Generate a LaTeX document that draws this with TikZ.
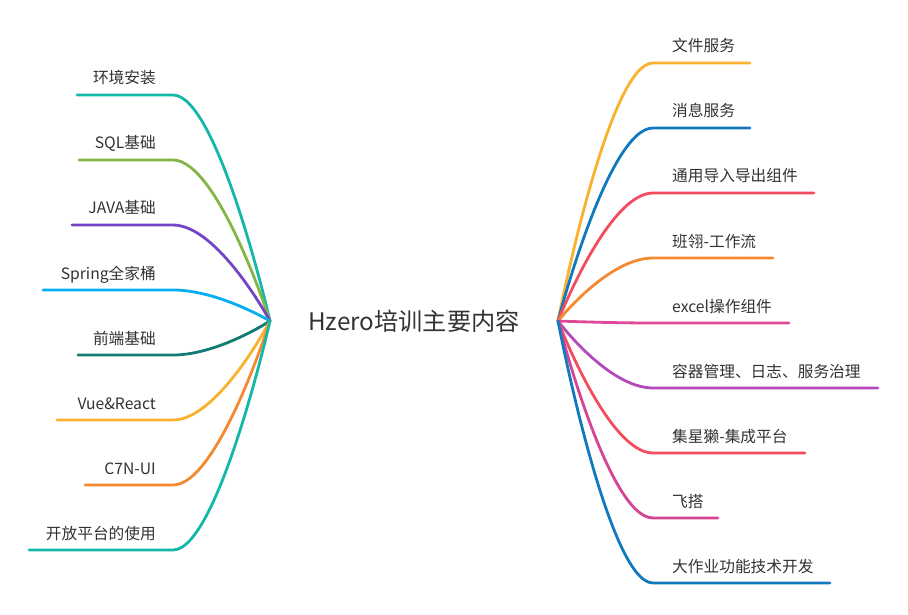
\documentclass[tikz,border=0pt]{standalone}
\usepackage{fontspec}
\setmainfont{Noto Sans CJK SC}
\usepackage{xcolor}
\usepackage{tikz}
\usetikzlibrary{positioning}

\definecolor{txt}{HTML}{333333}
\definecolor{cTeal}{HTML}{14B8A8}
\definecolor{cGreen}{HTML}{84B547}
\definecolor{cPurple}{HTML}{7446C7}
\definecolor{cSky}{HTML}{05AEEF}
\definecolor{cDeep}{HTML}{0F7B73}
\definecolor{cAmber}{HTML}{FAB12E}
\definecolor{cOrange}{HTML}{F5892F}
\definecolor{cBlue}{HTML}{1279BF}
\definecolor{cRed}{HTML}{F24C5E}
\definecolor{cPink}{HTML}{E0489A}
\definecolor{cMagenta}{HTML}{B349BB}
\definecolor{cRose}{HTML}{D64496}

\begin{document}
\begin{tikzpicture}[
  x=1pt,y=-1pt,
  topic/.style={font=\fontsize{24.2}{28}\selectfont,text=txt,inner sep=0pt},
  leaf/.style={font=\fontsize{15.7}{18}\selectfont,text=txt,inner sep=0pt},
  branch/.style={line width=2.8pt,line cap=round}]

\useasboundingbox[fill=white] (0,0) rectangle (908,615);

% ---- centre -----------------------------------------------------------
\node[topic,anchor=base] (root) at (414,330) {Hzero培训主要内容};
\coordinate (lhub) at (270,321);
\coordinate (rhub) at (558,321);

% ---- left branches ----------------------------------------------------
\coordinate (l1a) at (77,95);  \coordinate (l1b) at (173,95);
\coordinate (l2a) at (79,160); \coordinate (l2b) at (173,160);
\coordinate (l3a) at (72,225); \coordinate (l3b) at (173,225);
\coordinate (l4a) at (43,290); \coordinate (l4b) at (173,290);
\coordinate (l5a) at (78,355); \coordinate (l5b) at (173,355);
\coordinate (l6a) at (57,420); \coordinate (l6b) at (173,420);
\coordinate (l7a) at (85,485); \coordinate (l7b) at (173,485);
\coordinate (l8a) at (29,550); \coordinate (l8b) at (173,550);

\node[leaf,anchor=base east] (t1) at (156,84)  {环境安装};
\node[leaf,anchor=base east] (t2) at (156,149) {SQL基础};
\node[leaf,anchor=base east] (t3) at (156,214) {JAVA基础};
\node[leaf,anchor=base east] (t4) at (156,279) {Spring全家桶};
\node[leaf,anchor=base east] (t5) at (156,344) {前端基础};
\node[leaf,anchor=base east] (t6) at (156,409) {Vue\&React};
\node[leaf,anchor=base east] (t7) at (156,474) {C7N-UI};
\node[leaf,anchor=base east] (t8) at (156,539) {开放平台的使用};

% ---- right branches ---------------------------------------------------
\coordinate (r1a) at (750,63);  \coordinate (r1b) at (653,63);
\coordinate (r2a) at (750,128); \coordinate (r2b) at (653,128);
\coordinate (r3a) at (814,193); \coordinate (r3b) at (653,193);
\coordinate (r4a) at (773,258); \coordinate (r4b) at (653,258);
\coordinate (r5a) at (789,323); \coordinate (r5b) at (653,323);
\coordinate (r6a) at (878,388); \coordinate (r6b) at (653,388);
\coordinate (r7a) at (805,453); \coordinate (r7b) at (653,453);
\coordinate (r8a) at (718,518); \coordinate (r8b) at (653,518);
\coordinate (r9a) at (830,583); \coordinate (r9b) at (653,583);

\node[leaf,anchor=base west] (s1) at (672,52)  {文件服务};
\node[leaf,anchor=base west] (s2) at (672,117) {消息服务};
\node[leaf,anchor=base west] (s3) at (672,182) {通用导入导出组件};
\node[leaf,anchor=base west] (s4) at (672,247) {班翎-工作流};
\node[leaf,anchor=base west] (s5) at (672,312) {excel操作组件};
\node[leaf,anchor=base west] (s6) at (672,377) {容器管理、日志、服务治理};
\node[leaf,anchor=base west] (s7) at (672,442) {集星獭-集成平台};
\node[leaf,anchor=base west] (s8) at (672,507) {飞搭};
\node[leaf,anchor=base west] (s9) at (672,572) {大作业功能技术开发};

% ---- edges ------------------------------------------------------------
\draw[branch,cTeal]   (lhub) .. controls (lhub) and +(45,0) .. (l1b) -- (l1a);
\draw[branch,cGreen]  (lhub) .. controls (lhub) and +(45,0) .. (l2b) -- (l2a);
\draw[branch,cPurple] (lhub) .. controls (lhub) and +(45,0) .. (l3b) -- (l3a);
\draw[branch,cSky]    (lhub) .. controls (lhub) and +(45,0) .. (l4b) -- (l4a);
\draw[branch,cDeep]   (lhub) .. controls (lhub) and +(45,0) .. (l5b) -- (l5a);
\draw[branch,cAmber]  (lhub) .. controls (lhub) and +(45,0) .. (l6b) -- (l6a);
\draw[branch,cOrange] (lhub) .. controls (lhub) and +(45,0) .. (l7b) -- (l7a);
\draw[branch,cTeal]   (lhub) .. controls (lhub) and +(45,0) .. (l8b) -- (l8a);

\draw[branch,cAmber]   (rhub) .. controls (rhub) and +(-45,0) .. (r1b) -- (r1a);
\draw[branch,cBlue]    (rhub) .. controls (rhub) and +(-45,0) .. (r2b) -- (r2a);
\draw[branch,cRed]     (rhub) .. controls (rhub) and +(-45,0) .. (r3b) -- (r3a);
\draw[branch,cOrange]  (rhub) .. controls (rhub) and +(-45,0) .. (r4b) -- (r4a);
\draw[branch,cPink]    (rhub) .. controls (rhub) and +(-45,0) .. (r5b) -- (r5a);
\draw[branch,cMagenta] (rhub) .. controls (rhub) and +(-45,0) .. (r6b) -- (r6a);
\draw[branch,cRed]     (rhub) .. controls (rhub) and +(-45,0) .. (r7b) -- (r7a);
\draw[branch,cRose]    (rhub) .. controls (rhub) and +(-45,0) .. (r8b) -- (r8a);
\draw[branch,cBlue]    (rhub) .. controls (rhub) and +(-45,0) .. (r9b) -- (r9a);
\end{tikzpicture}
\end{document}
